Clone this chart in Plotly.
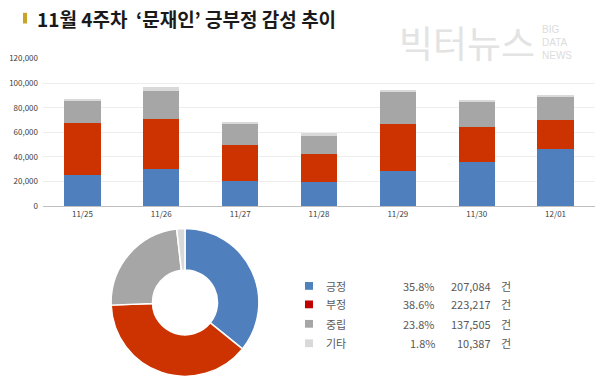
import plotly.graph_objects as go

dates = ["11/25", "11/26", "11/27", "11/28", "11/29", "11/30", "12/01"]
positive = [25500, 30200, 20500, 20000, 28900, 35800, 46500]
negative = [42400, 40500, 29500, 22100, 38200, 28900, 23500]
neutral = [17600, 22600, 16500, 15200, 25700, 20000, 18900]
other = [1300, 3600, 2100, 1900, 500, 1300, 300]

labels = ["긍정", "부정", "중립", "기타"]
totals = [207084, 223217, 137505, 10387]
pct_labels = ["35.8%", "38.6%", "23.8%", "1.8%"]
yticks = [0, 20000, 40000, 60000, 80000, 100000, 120000]

bar_colors = ["#4F7FBD", "#CC3300", "#A6A6A6", "#D9D9D9"]
legend_colors = ["#4F81BD", "#C00000", "#A6A6A6", "#D9D9D9"]

fig = go.Figure()
for name, vals, col in zip(labels, [positive, negative, neutral, other], bar_colors):
    fig.add_trace(go.Bar(x=dates, y=vals, name=name, marker=dict(color=col, line=dict(width=0)),
                         showlegend=False, hoverinfo="skip"))

fig.add_trace(go.Pie(labels=labels, values=totals, sort=False, direction="clockwise", rotation=0,
                     hole=0.44, marker=dict(colors=bar_colors, line=dict(color="white", width=1.5)),
                     textinfo="none", showlegend=False, hoverinfo="skip",
                     domain=dict(x=[109/600, 261/600], y=[1-381/392, 1-229/392])))

fig.update_layout(
    width=600, height=392, margin=dict(l=0, r=0, t=0, b=0),
    paper_bgcolor="white", plot_bgcolor="white",
    barmode="stack", bargap=0.54,
    font=dict(family="Noto Sans CJK KR, Noto Sans, sans-serif", color="#595959"),
    xaxis=dict(domain=[43/600, 595/600], anchor="y", showgrid=False, showline=True,
               linecolor="#BFBFBF", linewidth=1, ticks="", tickfont=dict(size=8, color="#404040")),
    yaxis=dict(domain=[1-206/392, 1-54/392], range=[0, 120000], tickvals=yticks,
               tickformat=",d", showgrid=True, gridcolor="#EDEDED", gridwidth=1,
               zeroline=False, ticks="", tickfont=dict(size=8, color="#404040"), ticklabelstandoff=4),
)

# Title
fig.add_shape(type="rect", xref="paper", yref="paper", x0=23/600, x1=27/600,
              y0=1-18/392, y1=1-7/392, fillcolor="#C9A227", line=dict(width=0))
fig.add_annotation(x=35/600, y=1-13/392, xref="paper", yref="paper", xanchor="left", yanchor="middle",
                   text="<b>11월 4주차  ‘문재인’ 긍부정 감성 추이</b>", showarrow=False,
                   font=dict(size=19, color="#1a1a1a", family="Noto Sans CJK KR"))

# Watermark
fig.add_annotation(x=467/600, y=1-37/392, xref="paper", yref="paper", xanchor="center", yanchor="middle",
                   text="빅터뉴스", showarrow=False,
                   font=dict(size=37, color="#E3E3E3", family="Noto Sans CJK KR"))
fig.add_annotation(x=540/600, y=1-38/392, xref="paper", yref="paper", xanchor="left", yanchor="middle",
                   text="BIG<br>DATA<br>NEWS", showarrow=False, align="left",
                   font=dict(size=10, color="#DCDCDC", family="Liberation Sans"))

# Donut legend
rows_y = [288, 307, 327, 347]
for lab, col, pct, tot, ry in zip(labels, legend_colors, pct_labels, totals, rows_y):
    fig.add_shape(type="rect", xref="paper", yref="paper", x0=305/600, x1=313/600,
                  y0=1-(ry+4)/392, y1=1-(ry-4)/392, fillcolor=col, line=dict(width=0))
    fig.add_annotation(x=324/600, y=1-ry/392, xref="paper", yref="paper", xanchor="left", yanchor="middle",
                       text=lab, showarrow=False, font=dict(size=11, color="#595959"))
    fig.add_annotation(x=437/600, y=1-ry/392, xref="paper", yref="paper", xanchor="right", yanchor="middle",
                       text=pct, showarrow=False, font=dict(size=11, color="#595959"))
    fig.add_annotation(x=493/600, y=1-ry/392, xref="paper", yref="paper", xanchor="right", yanchor="middle",
                       text=f"{tot:,}", showarrow=False, font=dict(size=11, color="#595959"))
    fig.add_annotation(x=499/600, y=1-ry/392, xref="paper", yref="paper", xanchor="left", yanchor="middle",
                       text="건", showarrow=False, font=dict(size=11, color="#595959"))

fig.write_html("out.html", config={"displayModeBar": False},
               post_script="document.body.style.margin='0';")
